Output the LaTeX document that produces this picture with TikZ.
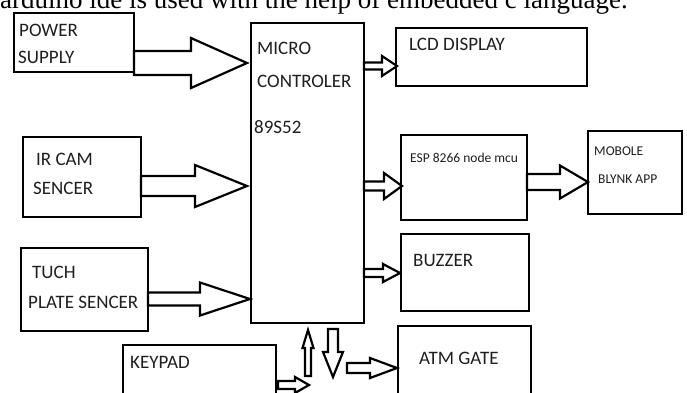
\documentclass[tikz,border=0pt]{standalone}
\usepackage{fontspec}
\setmainfont{Carlito}
\newfontfamily\serifA{Liberation Serif}
\usetikzlibrary{calc}
\tikzset{
  blk/.style={draw=black, line width=2.6pt, fill=white, inner sep=0pt, outer sep=0pt, anchor=north west},
  fatarrow/.style={draw=black, line width=2.2pt, fill=white, line join=miter},
  lbl/.style={inner sep=0pt, anchor=base west, font=\fontsize{19}{22}\selectfont, text=black!88},
  slbl/.style={inner sep=0pt, anchor=base west, font=\fontsize{13.5}{16}\selectfont, text=black!88}
}
% horizontal hollow arrow: start, tip, shaft half width, head half width, head length
\newcommand{\harrow}[5]{%
  \draw[fatarrow] let \p1=(#1), \p2=(#2) in
    (\x1,\y1+#3pt) -- (\x2-#5pt,\y1+#3pt) -- (\x2-#5pt,\y1+#4pt) -- (\x2,\y1)
    -- (\x2-#5pt,\y1-#4pt) -- (\x2-#5pt,\y1-#3pt) -- (\x1,\y1-#3pt) -- cycle;}
% upward hollow arrow
\newcommand{\uarrow}[5]{%
  \draw[fatarrow] let \p1=(#1), \p2=(#2) in
    (\x1-#3pt,\y1) -- (\x1-#3pt,\y2-#5pt) -- (\x1-#4pt,\y2-#5pt) -- (\x1,\y2)
    -- (\x1+#4pt,\y2-#5pt) -- (\x1+#3pt,\y2-#5pt) -- (\x1+#3pt,\y1) -- cycle;}
% downward hollow arrow
\newcommand{\darrow}[5]{%
  \draw[fatarrow] let \p1=(#1), \p2=(#2) in
    (\x1-#3pt,\y1) -- (\x1-#3pt,\y2+#5pt) -- (\x1-#4pt,\y2+#5pt) -- (\x1,\y2)
    -- (\x1+#4pt,\y2+#5pt) -- (\x1+#3pt,\y2+#5pt) -- (\x1+#3pt,\y1) -- cycle;}
\begin{document}
\begin{tikzpicture}[x=1pt,y=-1pt]
\useasboundingbox (0,0) rectangle (687,392);
\fill[white] (0,0) rectangle (687,392);
\begin{scope}
\clip (0,0) rectangle (687,392);
\node[inner sep=0pt, anchor=base west, font=\serifA\fontsize{27}{30}\selectfont] (title) at (0,8) {arduino ide is used with the help of embedded c language.};

% boxes
\node[blk, minimum width=120pt, minimum height=59pt] (ps) at (14,13) {};
\node[blk, minimum width=113pt, minimum height=300pt] (mc) at (251,23) {};
\node[blk, minimum width=191pt, minimum height=58pt] (lcd) at (396,28) {};
\node[blk, minimum width=126pt, minimum height=85pt] (esp) at (401,135) {};
\node[blk, minimum width=94pt, minimum height=83pt] (mob) at (588,131) {};
\node[blk, minimum width=128pt, minimum height=77pt] (buz) at (401,234) {};
\node[blk, minimum width=133pt, minimum height=80pt] (atm) at (398,326) {};
\node[blk, minimum width=118pt, minimum height=80pt] (ir) at (23,137) {};
\node[blk, minimum width=127pt, minimum height=83pt] (tuch) at (21,248) {};
\node[blk, minimum width=153pt, minimum height=70pt] (key) at (123,345) {};

% labels
\node[lbl] (tps1) at (19,36) {POWER};
\node[lbl] (tps2) at (18,63) {SUPPLY};
\node[lbl] (tmc1) at (257,54) {MICRO};
\node[lbl] (tmc2) at (257,87) {CONTROLER};
\node[lbl] (tmc3) at (254,133) {89S52};
\node[lbl] (tlcd) at (409,50) {LCD DISPLAY};
\node[slbl] (tesp) at (410,162) {ESP 8266 node mcu};
\node[slbl] (tmob1) at (594,155) {MOBOLE};
\node[slbl] (tmob2) at (598,183) {BLYNK APP};
\node[lbl] (tbuz) at (413,266) {BUZZER};
\node[lbl] (tatm) at (419,364) {ATM GATE};
\node[lbl] (tir1) at (36,165) {IR CAM};
\node[lbl] (tir2) at (33,194) {SENCER};
\node[lbl] (ttu1) at (32,278) {TUCH};
\node[lbl] (ttu2) at (28,308) {PLATE SENCER};
\node[lbl] (tkey) at (130,368) {KEYPAD};

% connector end points
\coordinate (a1s) at ([shift={(0,50)}]ps.north east);
\coordinate (a1e) at ([shift={(-4,40)}]mc.north west);
\coordinate (a2s) at ([shift={(0,49)}]ir.north east);
\coordinate (a2e) at ([shift={(-4,163)}]mc.north west);
\coordinate (a3s) at ([shift={(0,51)}]tuch.north east);
\coordinate (a3e) at ([shift={(-1,276)}]mc.north west);
\coordinate (a4s) at ([shift={(0,43)}]mc.north east);
\coordinate (a4e) at ([shift={(1,38)}]lcd.north west);
\coordinate (a5s) at ([shift={(0,163)}]mc.north east);
\coordinate (a5e) at ([shift={(1,51)}]esp.north west);
\coordinate (a6s) at ([shift={(0,47)}]esp.north east);
\coordinate (a6e) at ([shift={(0,51)}]mob.north west);
\coordinate (a7s) at ([shift={(0,250)}]mc.north east);
\coordinate (a7e) at ([shift={(-1,39)}]buz.north west);
\coordinate (a8s) at (347,368);
\coordinate (a8e) at ([shift={(-1,42)}]atm.north west);
\coordinate (a9s) at ([shift={(2,40)}]key.north east);
\coordinate (a9e) at (309,385);
\coordinate (aus) at (308,376);
\coordinate (aue) at ([shift={(-56,7)}]mc.south east);
\coordinate (ads) at ([shift={(82,6)}]mc.south west);
\coordinate (ade) at (333,377);

% hollow block arrows
\harrow{a1s}{a1e}{12}{25}{56}
\harrow{a2s}{a2e}{10}{21}{52}
\harrow{a3s}{a3e}{6.5}{16.5}{50}
\harrow{a4s}{a4e}{3.5}{10}{15}
\harrow{a5s}{a5e}{4.5}{13}{18}
\harrow{a6s}{a6e}{8}{16.5}{28}
\harrow{a7s}{a7e}{4}{9}{17}
\harrow{a8s}{a8e}{5}{10}{27}
\harrow{a9s}{a9e}{4}{8}{14}
\uarrow{aus}{aue}{3}{5.5}{18}
\darrow{ads}{ade}{5}{10}{25}
\end{scope}
\end{tikzpicture}
\end{document}
